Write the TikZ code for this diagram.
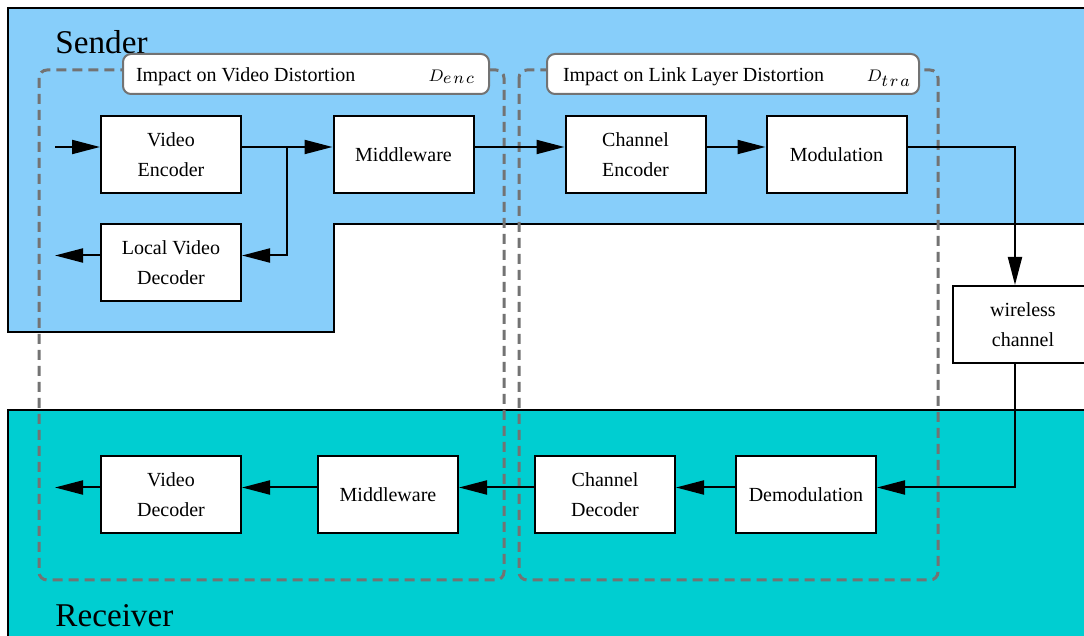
\documentclass[tikz,border=0pt]{standalone}
\usepackage{fix-cm}
\usepackage{fontspec}
\setmainfont{Liberation Serif}
\usetikzlibrary{arrows.meta,calc}
\definecolor{senderblue}{RGB}{135,206,250}
\definecolor{receivercyan}{RGB}{0,206,209}
\definecolor{groupgray}{RGB}{115,115,115}
% distortion symbol with spaced italic subscript
\newcommand\distsym[1]{{\fontsize{8.4}{10}\selectfont$D_{\textstyle #1}$}}
\begin{document}
\begin{tikzpicture}[x=0.5pt,y=-0.5pt,
  block/.style={draw, line width=1pt, fill=white, minimum width=70pt,
    minimum height=38.5pt, inner sep=0pt, align=center,
    font=\fontsize{10}{15}\selectfont},
  arr/.style={line width=1pt, -{Triangle[length=14pt,width=7pt]}},
  region/.style={draw, line width=1pt},
  group/.style={draw=groupgray, line width=1.5pt, dash pattern=on 5pt off 3pt,
    rounded corners=4pt},
  tag/.style={draw=groupgray, line width=1pt, fill=white, rounded corners=4pt,
    minimum height=20pt, inner xsep=0pt, inner ysep=0pt,
    text height=8.5pt, text depth=1pt,
    font=\fontsize{10}{12}\selectfont},
  title/.style={anchor=base west, inner sep=0pt, font=\fontsize{16.6}{20}\selectfont}]
\useasboundingbox (0,0) rectangle (1084,636);
\clip (0,0) rectangle (1084,636);

% sender and receiver areas
\draw[region, fill=senderblue] (8,8) -- (1100,8) -- (1100,224) -- (334,224)
  -- (334,332) -- (8,332) -- cycle;
\draw[region, fill=receivercyan] (8,660) -- (8,410) -- (1100,410) -- (1100,660);
\node[title] (sender) at (55,54) {Sender};
\node[title] (receiver) at (55,627) {Receiver};

% groups of blocks
\draw[group] (39,70) rectangle (504,580);
\draw[group] (519,70) rectangle (938,580);
\node[tag] (tagenc) at (306,74)
  {\hbox to 183pt{\hskip6.5pt Impact on Video Distortion\hfill\distsym{e\mskip2mu n\mskip2mu c}\hskip7pt}};
\node[tag] (tagtra) at (733,74)
  {\hbox to 186pt{\hskip8pt Impact on Link Layer Distortion\hfill\distsym{t\mskip2mu r\mskip2mu a}\hskip4pt}};

% blocks
\node[block] (venc) at (171,154.5) {Video\\Encoder};
\node[block] (mws)  at (403.5,154.5) {Middleware};
\node[block] (cenc) at (635.5,154.5) {Channel\\Encoder};
\node[block] (mod)  at (836.5,154.5) {Modulation};
\node[block] (lvd)  at (171,263) {Local Video\\Decoder};
\node[block] (wc)   at (1023,324.5) {wireless\\channel};
\node[block] (vdec) at (171,495) {Video\\Decoder};
\node[block] (mwr)  at (388,495) {Middleware};
\node[block] (cdec) at (605,495) {Channel\\Decoder};
\node[block] (dem)  at (806,495) {Demodulation};

% free ends
\coordinate (src)  at (55,147);
\coordinate (out1) at (55,255.5);
\coordinate (out2) at (55,487.5);
\coordinate (split) at ($([yshift=3.75pt]venc.east)!0.5!([yshift=3.75pt]mws.west)$);

% sender chain
\draw[arr] (src) -- ([yshift=3.75pt]venc.west);
\draw[arr] ([yshift=3.75pt]venc.east) -- ([yshift=3.75pt]mws.west);
\draw[arr] (split) |- ([yshift=3.75pt]lvd.east);
\draw[arr] ([yshift=3.75pt]lvd.west) -- (out1);
\draw[arr] ([yshift=3.75pt]mws.east) -- ([yshift=3.75pt]cenc.west);
\draw[arr] ([yshift=3.75pt]cenc.east) -- ([yshift=3.75pt]mod.west);
\draw[arr] ([yshift=3.75pt]mod.east) -| ([xshift=-4pt]wc.north);

% receiver chain
\draw[arr] ([xshift=-4pt]wc.south) |- ([yshift=3.75pt]dem.east);
\draw[arr] ([yshift=3.75pt]dem.west) -- ([yshift=3.75pt]cdec.east);
\draw[arr] ([yshift=3.75pt]cdec.west) -- ([yshift=3.75pt]mwr.east);
\draw[arr] ([yshift=3.75pt]mwr.west) -- ([yshift=3.75pt]vdec.east);
\draw[arr] ([yshift=3.75pt]vdec.west) -- (out2);
\end{tikzpicture}
\end{document}
